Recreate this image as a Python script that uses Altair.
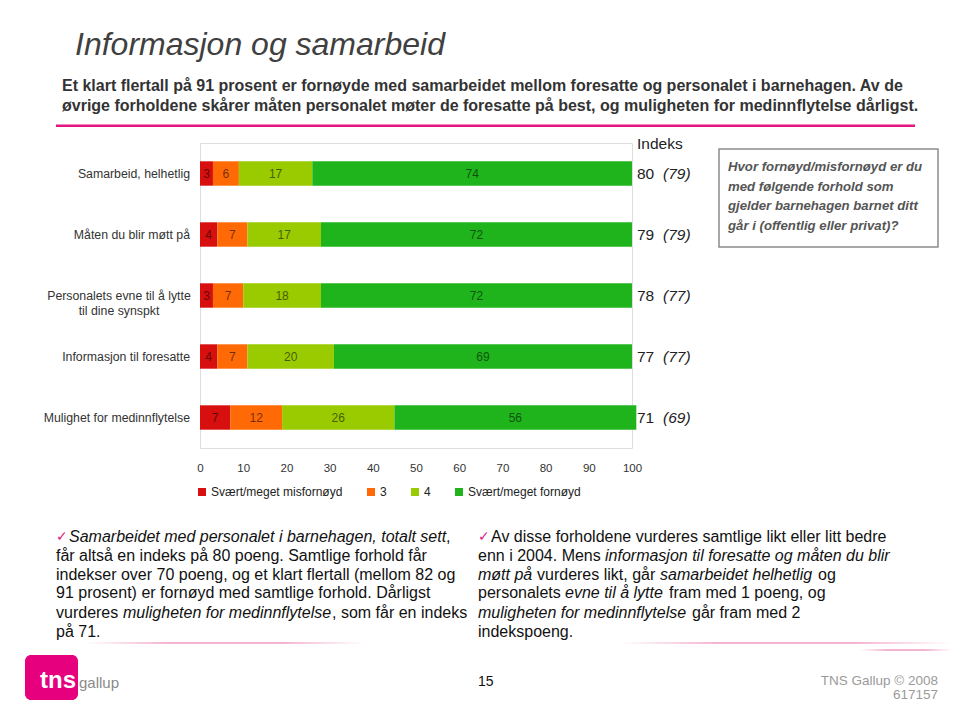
import altair as alt
import pandas as pd

FONT = "Liberation Sans"

# ---------------- data ----------------
categories = [
    "Samarbeid, helhetlig",
    "Måten du blir møtt på",
    "Personalets evne til å lytte\ntil dine synspkt",
    "Informasjon til foresatte",
    "Mulighet for medinnflytelse",
]
levels = ["Svært/meget misfornøyd", "3", "4", "Svært/meget fornøyd"]
level_colors = ["#d7100f", "#ff6a07", "#9acb00", "#20b41c"]
v_misfornoyd = [3, 4, 3, 4, 7]
v_3 = [6, 7, 7, 7, 12]
v_4 = [17, 17, 18, 20, 26]
v_fornoyd = [74, 72, 72, 69, 56]
index_2008 = [80, 79, 78, 77, 71]
index_2004 = [79, 79, 77, 77, 69]
x_ticks = [0, 10, 20, 30, 40, 50, 60, 70, 80, 90, 100]

rows = []
for series, lvl in zip([v_misfornoyd, v_3, v_4, v_fornoyd], levels):
    for c, v in zip(categories, series):
        rows.append({"cat": c, "level": lvl, "ord": levels.index(lvl), "value": v})
df = pd.DataFrame(rows)
idx = pd.DataFrame({"cat": categories, "i08": index_2008, "i04": index_2004})
cats = pd.DataFrame({"cat": categories})

xscale = alt.Scale(domain=[0, 100], nice=False, zero=True)
yscale = alt.Scale(domain=categories, paddingInner=0.6, paddingOuter=0.3)
xaxis = alt.Axis(values=x_ticks, domain=False, ticks=False, tickSize=0, grid=False,
                 labelFontSize=11.5, labelFont=FONT, labelColor="#333",
                 labelPadding=14, labelFlush=False, title=None)

bars = alt.Chart(df).mark_bar().encode(
    x=alt.X("value:Q", stack="zero", scale=xscale, axis=xaxis),
    y=alt.Y("cat:N", sort=categories, scale=yscale, axis=None),
    color=alt.Color("level:N", scale=alt.Scale(domain=levels, range=level_colors),
                    legend=alt.Legend(orient="none", legendX=-4, legendY=343,
                                      direction="horizontal", title=None,
                                      symbolType="square", symbolSize=64,
                                      symbolStrokeWidth=0, labelFontSize=12,
                                      labelFont=FONT, labelColor="#222",
                                      columnPadding=22, labelOffset=3, padding=0)),
    order=alt.Order("ord:Q", sort="ascending"),
)

bar_text = alt.Chart(df).transform_stack(
    stack="value", groupby=["cat"], as_=["s0", "s1"],
    sort=[alt.SortField("ord", order="ascending")]
).transform_calculate(mid="(datum.s0 + datum.s1) / 2").mark_text(
    fontSize=12, font=FONT, color="black", opacity=0.55, baseline="middle", align="center"
).encode(
    x=alt.X("mid:Q", scale=xscale, axis=xaxis),
    y=alt.Y("cat:N", sort=categories, scale=yscale, axis=None),
    text="value:Q",
)

cat_single = alt.Chart(cats).transform_filter(
    "indexof(datum.cat, '\\n') < 0"
).mark_text(align="right", baseline="middle", fontSize=12.3, font=FONT, color="#333").encode(
    x=alt.value(-10),
    y=alt.Y("cat:N", sort=categories, scale=yscale, axis=None),
    text="cat:N",
)
cat_multi = alt.Chart(cats).transform_filter(
    "indexof(datum.cat, '\\n') >= 0"
).mark_text(align="center", baseline="middle", fontSize=12.3, font=FONT, color="#333",
            lineBreak="\n", lineHeight=15).encode(
    x=alt.value(-81),
    y=alt.Y("cat:N", sort=categories, scale=yscale, axis=None),
    text="cat:N",
)

idx_now = alt.Chart(idx).mark_text(align="left", baseline="middle", fontSize=15.5,
                                   font=FONT, color="#222").encode(
    x=alt.value(437),
    y=alt.Y("cat:N", sort=categories, scale=yscale, axis=None),
    text="i08:Q",
)
idx_old = alt.Chart(idx).transform_calculate(lab="'(' + datum.i04 + ')'").mark_text(
    align="left", baseline="middle", fontSize=15.5, font=FONT, fontStyle="italic", color="#222"
).encode(
    x=alt.value(463),
    y=alt.Y("cat:N", sort=categories, scale=yscale, axis=None),
    text="lab:N",
)


def txt(s, x, y, size=16, italic=False, bold=False, color="#111", align="left"):
    return alt.Chart(pd.DataFrame({"t": [s]})).mark_text(
        align=align, baseline="middle", fontSize=size, font=FONT,
        fontStyle="italic" if italic else "normal",
        fontWeight="bold" if bold else "normal", color=color,
    ).encode(x=alt.value(x), y=alt.value(y), text="t:N")


def box(x, x2, y, y2, **kw):
    return alt.Chart(pd.DataFrame({"t": [0]})).mark_rect(**kw).encode(
        x=alt.value(x), x2=alt.value(x2), y=alt.value(y), y2=alt.value(y2))


layers = [bars, bar_text, cat_single, cat_multi, idx_now, idx_old]

# header texts
layers.append(txt("Indeks", 437, 1, size=15.5, color="#222"))
layers.append(txt("Informasjon og samarbeid", -125, -98, size=32, italic=True, color="#404040"))
layers.append(txt("Et klart flertall på 91 prosent er fornøyde med samarbeidet mellom foresatte og personalet i barnehagen. Av de",
                  -138, -57, size=16, bold=True, color="#333"))
layers.append(txt("øvrige forholdene skårer måten personalet møter de foresatte på best, og muligheten for medinnflytelse dårligst.",
                  -138, -37, size=16, bold=True, color="#333"))
layers.append(box(-144, 715, -18.5, -16, fill="#e3177f"))

# question box
layers.append(box(519, 738, 6, 104, fill="white", stroke="#8c8c8c", strokeWidth=1.5))
q_lines = ["Hvor fornøyd/misfornøyd er du", "med følgende forhold som",
           "gjelder barnehagen barnet ditt", "går i (offentlig eller privat)?"]
for i, line in enumerate(q_lines):
    layers.append(txt(line, 528, 24 + i * 19.5, size=13.2, italic=True, bold=True, color="#555"))

# bottom text
LY = [393.7, 412.7, 432, 450.3, 469.7, 488.7]
PINK = "#e0207f"
left_segments = [
    (0, -144, "✓", False, PINK, 14),
    (0, -131, "Samarbeidet med personalet i barnehagen, totalt sett", True, "#111", 16),
    (0, 246, ",", False, "#111", 16),
    (1, -144, "får altså en indeks på 80 poeng. Samtlige forhold får", False, "#111", 16),
    (2, -144, "indekser over 70 poeng, og et klart flertall (mellom 82 og", False, "#111", 16),
    (3, -144, "91 prosent) er fornøyd med samtlige forhold. Dårligst", False, "#111", 16),
    (4, -144, "vurderes", False, "#111", 16),
    (4, -77, "muligheten for medinnflytelse", True, "#111", 16),
    (4, 132, ", som får en indeks", False, "#111", 16),
    (5, -144, "på 71.", False, "#111", 16),
]
right_segments = [
    (0, 278, "✓", False, PINK, 14),
    (0, 291, "Av disse forholdene vurderes samtlige likt eller litt bedre", False, "#111", 16),
    (1, 278, "enn i 2004. Mens", False, "#111", 16),
    (1, 405, "informasjon til foresatte og måten du blir", True, "#111", 16),
    (2, 278, "møtt på", True, "#111", 16),
    (2, 337, "vurderes likt, går", False, "#111", 16),
    (2, 460, "samarbeidet helhetlig", True, "#111", 16),
    (2, 618, "og", False, "#111", 16),
    (3, 278, "personalets", False, "#111", 16),
    (3, 365, "evne til å lytte", True, "#111", 16),
    (3, 469, "fram med 1 poeng, og", False, "#111", 16),
    (4, 278, "muligheten for medinnflytelse", True, "#111", 16),
    (4, 492, "går fram med 2", False, "#111", 16),
    (5, 278, "indekspoeng.", False, "#111", 16),
]
for ln, x, s, it, col, sz in left_segments + right_segments:
    layers.append(txt(s, x, LY[ln], size=sz, italic=it, color=col))

# faded pink separators
def fade(x, x2, y):
    grad = alt.Gradient(gradient="linear", x1=0, x2=1, y1=0, y2=0,
                        stops=[alt.GradientStop(offset=0, color="#ffffff"),
                               alt.GradientStop(offset=0.3, color="#f4b3d1"),
                               alt.GradientStop(offset=0.7, color="#f4b3d1"),
                               alt.GradientStop(offset=1, color="#ffffff")])
    return box(x, x2, y, y + 2, fill=grad)

layers.append(fade(-115, 165, 499))
layers.append(fade(420, 752, 499))
layers.append(fade(660, 752, 506))

# footer
layers.append(box(-175, -122, 512, 557, fill="#e6007e", cornerRadius=6))
layers.append(txt("tns", -160, 538, size=24, bold=True, color="white"))
layers.append(txt("gallup", -121, 540, size=15, color="#8a8a8a"))
layers.append(txt("15", 278, 539, size=14, color="#111"))
layers.append(txt("TNS Gallup © 2008", 738, 538, size=13.5, color="#9a9a9a", align="right"))
layers.append(txt("617157", 738, 552, size=13.5, color="#9a9a9a", align="right"))

chart = alt.layer(*layers).properties(
    width=432, height=305,
    padding={"left": 192, "top": 135, "right": 320, "bottom": 254},
    autosize=alt.AutoSizeParams(type="none"),
).configure_view(fill="#f7f7f7", stroke=None).configure(background="white")

chart.save("out.html", embed_options={"renderer": "svg", "actions": False})
